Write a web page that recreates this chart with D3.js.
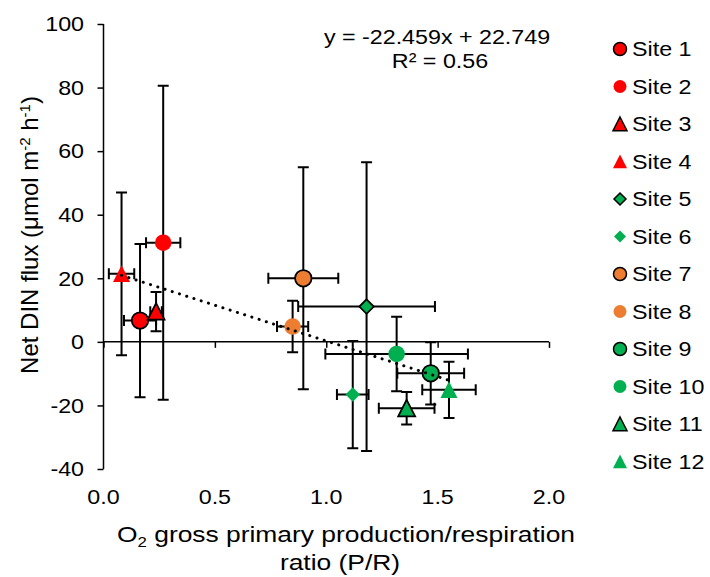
<!DOCTYPE html>
<html>
<head>
<meta charset="utf-8">
<script src="https://cdn.jsdelivr.net/npm/d3@7"></script>
<style>
  body { margin: 0; background: #fff; }
  svg { font-family: "Liberation Sans", Arial, sans-serif; }
</style>
</head>
<body>
<svg id="chart" width="710" height="577"></svg>
<script>
// site data
const sites   = ["Site 1", "Site 2", "Site 3", "Site 4", "Site 5", "Site 6",
                 "Site 7", "Site 8", "Site 9", "Site 10", "Site 11", "Site 12"]
const pr      = [0.164, 0.268, 0.236, 0.081, 1.181, 1.119, 0.897, 0.849, 1.469, 1.316, 1.361, 1.551]
const din     = [6.7, 31.2, 9.5, 21.4, 11.1, -16.6, 20.0, 4.8, -9.9, -3.8, -20.9, -15.1]
const prErr   = [0.072, 0.077, 0.026, 0.057, 0.307, 0.071, 0.157, 0.070, 0.150, 0.320, 0.125, 0.120]
const dinErr  = [24.1, 49.4, 6.2, 25.6, 45.4, 16.9, 34.9, 8.1, 9.8, 11.7, 5.1, 8.85]
const shapes  = ["circle", "circle", "triangle", "triangle", "diamond", "diamond",
                 "circle", "circle", "circle", "circle", "triangle", "triangle"]
const colors  = ["#FF0000", "#FF0000", "#FF0000", "#FF0000", "#00B050", "#00B050",
                 "#ED7D31", "#ED7D31", "#00B050", "#00B050", "#00B050", "#00B050"]
const outline = [true, false, true, false, true, false, true, false, true, false, true, false]

const xTicks = [0, 0.5, 1, 1.5, 2]
const yTicks = [-40, -20, 0, 20, 40, 60, 80, 100]

// trendline y = -22.459x + 22.749
const slope = -22.459, intercept = 22.749

const svg = d3.select("#chart")

const x = d3.scaleLinear().domain([0, 2]).range([103.5, 549])
const y = d3.scaleLinear().domain([-40, 100]).range([469, 24])

// the source picture is a little wider than tall, so text gets stretched
const fontSize = 20.5, stretch = 1.135

function label(parent, px, py, str, anchor) {
  return parent.append("text")
      .attr("transform", `translate(${px},${py}) scale(${stretch},1)`)
      .attr("text-anchor", anchor || "start")
      .attr("font-size", fontSize)
      .attr("fill", "#000")
      .text(str)
}

function markerPath(shape, s) {
  // s = full width of the marker
  const h = s / 2
  if (shape == "circle")
    return d3.symbol(d3.symbolCircle, Math.PI * h * h)()
  if (shape == "diamond")
    return `M0,${-h}L${h},0L0,${h}L${-h},0Z`
  // triangle, centred on its box
  return `M0,${-h}L${h},${h * 0.95}L${-h},${h * 0.95}Z`
}

function markerSize(shape, withLegend) {
  if (shape == "diamond") return withLegend ? 12 : 14.5
  if (shape == "triangle") return withLegend ? 14 : 17
  return withLegend ? 13 : 16.5
}

//
// Axes
//

const yAxis = svg.append("g")
    .attr("transform", `translate(${x(0)},0)`)
    .call(d3.axisLeft(y).tickValues(yTicks).tickSize(6).tickFormat(""))
yAxis.select(".domain").attr("stroke", "#000").attr("stroke-width", 1.5)
  .attr("d", `M0,${y(100)}V${y(-40)}`)
yAxis.selectAll(".tick line").attr("stroke", "#000").attr("stroke-width", 1.5)

const yLabels = svg.append("g")
yTicks.forEach(t => label(yLabels, 84, y(t) + 7.3, String(t), "end"))

const xAxis = svg.append("g")
    .attr("transform", `translate(0,${y(0)})`)
    .call(d3.axisBottom(x).tickValues(xTicks).tickSize(6).tickFormat(""))
xAxis.select(".domain").attr("stroke", "#000").attr("stroke-width", 1.5)
  .attr("d", `M${x(0)},0H${x(2)}`)
xAxis.selectAll(".tick line").attr("stroke", "#000").attr("stroke-width", 1.5)

// x tick labels sit low, under the plot
const xLabels = svg.append("g")
xTicks.forEach(t => label(xLabels, x(t), 504, d3.format(".1f")(t), "middle"))

//
// Error bars
//

const cap = 5.5
const bars = svg.append("g")
    .attr("stroke", "#000")
    .attr("stroke-width", 2)
    .attr("fill", "none")

sites.forEach((s, i) => {
  const cx = x(pr[i]), cy = y(din[i])
  const x0 = x(pr[i] - prErr[i]), x1 = x(pr[i] + prErr[i])
  const y0 = y(din[i] + dinErr[i]), y1 = y(din[i] - dinErr[i])
  bars.append("path")
      .attr("d", `M${cx},${y0}V${y1}M${cx - cap},${y0}H${cx + cap}M${cx - cap},${y1}H${cx + cap}` +
                 `M${x0},${cy}H${x1}M${x0},${cy - cap}V${cy + cap}M${x1},${cy - cap}V${cy + cap}`)
})

//
// Markers
//

svg.append("g")
  .selectAll("path")
  .data(sites)
  .enter().append("path")
    .attr("transform", (d, i) => `translate(${x(pr[i])},${y(din[i])})`)
    .attr("d", (d, i) => markerPath(shapes[i], markerSize(shapes[i])))
    .attr("fill", (d, i) => colors[i])
    .attr("stroke", (d, i) => outline[i] ? "#000" : "none")
    .attr("stroke-width", 1.75)

//
// Trendline
//

const xMin = d3.min(pr), xMax = d3.max(pr)
svg.append("line")
    .attr("x1", x(xMin)).attr("y1", y(slope * xMin + intercept))
    .attr("x2", x(xMax)).attr("y2", y(slope * xMax + intercept))
    .attr("stroke", "#000")
    .attr("stroke-width", 3)
    .attr("stroke-linecap", "round")
    .attr("stroke-dasharray", "0.1,7.5")

label(svg, 437, 44, "y = -22.459x + 22.749", "middle")
label(svg, 440, 68, "R² = 0.56", "middle")

//
// Axis titles
//

const xTitle = svg.append("text")
    .attr("transform", "translate(346,542) scale(1.2,1)")
    .attr("text-anchor", "middle")
    .attr("font-size", 22)
xTitle.append("tspan").text("O")
xTitle.append("tspan").attr("font-size", 14).attr("dy", 5).text("2")
xTitle.append("tspan").attr("dy", -5).text(" gross primary production/respiration")

svg.append("text")
    .attr("transform", "translate(340,570) scale(1.2,1)")
    .attr("text-anchor", "middle")
    .attr("font-size", 22)
    .text("ratio (P/R)")

const yTitle = svg.append("text")
    .attr("transform", "translate(38,235) rotate(-90)")
    .attr("text-anchor", "middle")
    .attr("font-size", 24)
yTitle.append("tspan").text("Net DIN flux (μmol m")
yTitle.append("tspan").attr("font-size", 15).attr("dy", -8.5).text("-2")
yTitle.append("tspan").attr("dy", 8.5).text(" h")
yTitle.append("tspan").attr("font-size", 15).attr("dy", -8.5).text("-1")
yTitle.append("tspan").attr("dy", 8.5).text(")")

//
// Legend
//

const legend = svg.append("g")
  .selectAll("g")
  .data(sites)
  .enter().append("g")
    .attr("transform", (d, i) => `translate(620,${49 + i * 37.5})`)

legend.append("path")
    .attr("d", (d, i) => markerPath(shapes[i], markerSize(shapes[i], true)))
    .attr("fill", (d, i) => colors[i])
    .attr("stroke", (d, i) => outline[i] ? "#000" : "none")
    .attr("stroke-width", 1.5)

legend.each(function(d) { label(d3.select(this), 12, 7.3, d) })
</script>
</body>
</html>
